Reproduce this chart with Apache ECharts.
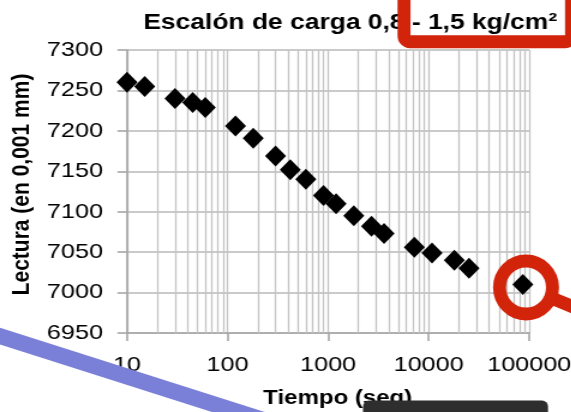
<!DOCTYPE html>
<html>
<head>
<meta charset="utf-8">
<script src="https://cdn.jsdelivr.net/npm/echarts@6/dist/echarts.min.js"></script>
<style>
  html, body { margin: 0; padding: 0; background: #ffffff; overflow: hidden; }
  #wrap { width: 571px; height: 412px; overflow: hidden; position: relative; }
  #chart { position: absolute; left: 0; top: 0; height: 412px; transform-origin: 0 0; }
</style>
</head>
<body>
<div id="wrap"><div id="chart"></div></div>
<script>
// Consolidation load step 0.8 - 1.5 kg/cm²: dial reading vs elapsed time
const times = [10, 15, 30, 45, 60, 120, 180, 300, 420, 600, 900, 1200, 1800, 2700, 3600, 7200, 10800, 18000, 25200, 86400];
const readings = [7260, 7255, 7240, 7235, 7229, 7206, 7191, 7169, 7152, 7140, 7120, 7110, 7095, 7082, 7073, 7056, 7049, 7040, 7030, 7010];

const titleText = 'Escalón de carga 0,8 - 1,5 kg/cm²';
const xName = 'Tiempo (seg)';
const yName = 'Lectura (en 0,001 mm)';
const xMin = 10, xMax = 100000;
const yMin = 6950, yMax = 7300, yStep = 50;

// the figure is shown widened horizontally
const SX = 1.2;
const W = 571 / SX;
const chartEl = document.getElementById('chart');
chartEl.style.width = W + 'px';
chartEl.style.transform = 'scaleX(' + SX + ')';

const FONT = "'Liberation Sans', Arial, sans-serif";
const RED = '#d2230b';
const plain = v => String(v);

// minor log grid lines (2..9 within each decade)
const minorLines = [];
for (let d = xMin; d < xMax; d *= 10) {
  for (let m = 2; m <= 9; m++) minorLines.push({ xAxis: d * m });
}

const chart = echarts.init(chartEl, null, { renderer: 'canvas' });
chart.setOption({
  backgroundColor: '#ffffff',
  animation: false,
  title: {
    text: titleText,
    left: 143.3 / SX,
    top: 12,
    padding: 0,
    textStyle: { fontFamily: FONT, fontWeight: 'bold', fontSize: 22, color: '#000' }
  },
  grid: {
    left: 127 / SX,
    right: (571 - 529) / SX,
    top: 50,
    bottom: 79,
    containLabel: false,
    outerBoundsMode: 'none'
  },
  xAxis: {
    type: 'log',
    logBase: 10,
    min: xMin,
    max: xMax,
    name: xName,
    nameLocation: 'middle',
    nameGap: 55,
    nameTextStyle: { fontFamily: FONT, fontWeight: 'bold', fontSize: 20, color: '#000', padding: [0, 0, 0, 16] },
    axisLine: { show: true, lineStyle: { color: '#a6a6a6', width: 1.6 } },
    axisTick: { show: true, length: 8, lineStyle: { color: '#a6a6a6', width: 1.6 } },
    axisLabel: { fontFamily: FONT, fontSize: 21, color: '#000', margin: 22, formatter: plain },
    splitLine: { show: true, lineStyle: { color: '#c4c4c4', width: 1.3 } }
  },
  yAxis: {
    type: 'value',
    min: yMin,
    max: yMax,
    interval: yStep,
    name: yName,
    nameLocation: 'middle',
    nameRotate: 90,
    nameGap: 76,
    nameTextStyle: { fontFamily: FONT, fontWeight: 'bold', fontSize: 21, color: '#000', padding: [0, 0, 0, 14] },
    axisLine: { show: true, lineStyle: { color: '#a6a6a6', width: 1.6 } },
    axisTick: { show: true, length: 8, inside: false, lineStyle: { color: '#a6a6a6', width: 1.6 } },
    axisLabel: { fontFamily: FONT, fontSize: 21, color: '#000', margin: 20, formatter: plain },
    splitLine: { show: true, lineStyle: { color: '#b8b8b8', width: 1.5 } }
  },
  series: [
    {
      type: 'scatter',
      data: [],
      z: 1,
      silent: true,
      markLine: {
        silent: true,
        symbol: ['none', 'none'],
        label: { show: false },
        lineStyle: { color: '#c4c4c4', width: 1.3, type: 'solid' },
        emphasis: { disabled: true },
        data: minorLines
      }
    },
    {
      type: 'scatter',
      z: 5,
      symbol: 'diamond',
      symbolSize: [21 / SX, 21],
      itemStyle: { color: '#000000', opacity: 1 },
      data: times.map((t, i) => [t, readings[i]])
    }
  ],
  graphic: [
    {
      type: 'group',
      x: 0,
      y: 0,
      scaleX: 1 / SX,
      z: 100,
      children: [
        { type: 'line', z: 100, shape: { x1: -10, y1: 333, x2: 320, y2: 438 },
          style: { stroke: '#7a7fd8', lineWidth: 16 } },
        { type: 'rect', z: 100, shape: { x: 363, y: 400.5, width: 185, height: 40, r: 6 },
          style: { fill: '#2e2e2e' } },
        { type: 'rect', z: 100, shape: { x: 404, y: -30, width: 167.5, height: 71.7, r: 6 },
          style: { fill: 'none', stroke: RED, lineWidth: 13 } },
        { type: 'line', z: 100, shape: { x1: 549, y1: 297, x2: 600, y2: 318 },
          style: { stroke: RED, lineWidth: 13 } },
        { type: 'circle', z: 100, shape: { cx: 526, cy: 287.5, r: 26.5 },
          style: { fill: 'none', stroke: RED, lineWidth: 13 } }
      ]
    }
  ]
});
</script>
</body>
</html>
